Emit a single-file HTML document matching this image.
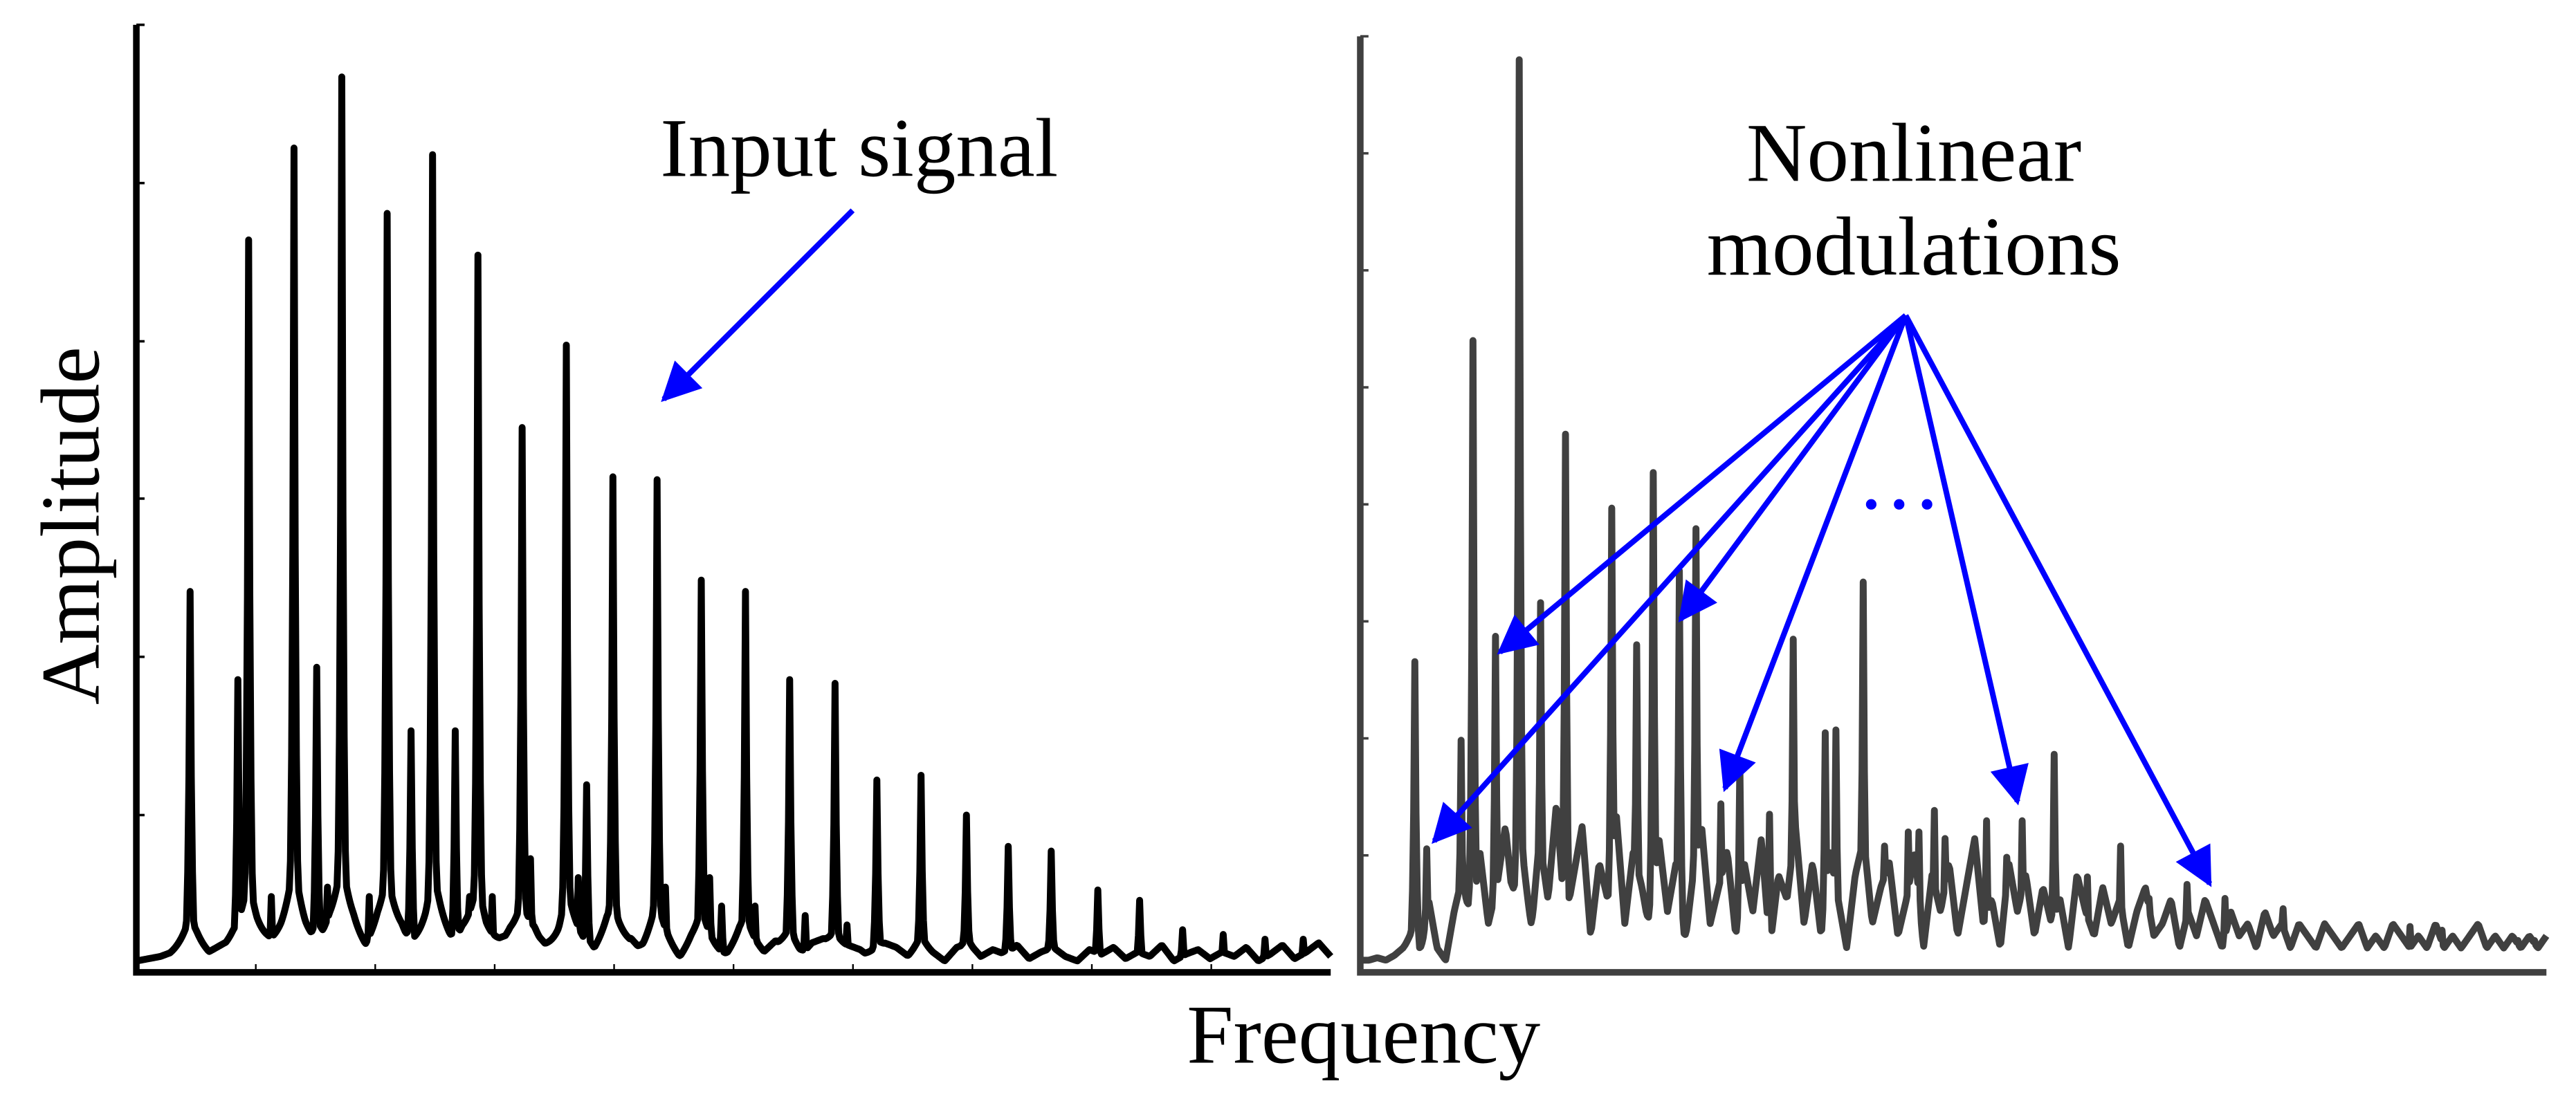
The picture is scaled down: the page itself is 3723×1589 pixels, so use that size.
<!DOCTYPE html>
<html><head><meta charset="utf-8"><style>
html,body{margin:0;padding:0;background:#fff;}
svg{display:block;}
text{font-family:"Liberation Serif",serif;fill:#000;}
</style></head><body>
<svg id="chart" width="3723" height="1589" viewBox="0 0 1568 669" xmlns="http://www.w3.org/2000/svg">
<defs>
<marker id="ah" viewBox="0 0 10 10" refX="9" refY="5" markerWidth="9" markerHeight="7" orient="auto" markerUnits="strokeWidth">
<path d="M0,0 L10,5 L0,10 z" fill="#0000ff"/>
</marker>
</defs>
<g id="left-panel"></g>
<g id="right-panel"></g>
<text transform="translate(60,320) rotate(-90)" text-anchor="middle" font-size="51">Amplitude</text>
<text x="830" y="647" text-anchor="middle" font-size="51">Frequency</text>
<text x="523" y="107" text-anchor="middle" font-size="51">Input signal</text>
<text x="1165" y="110" text-anchor="middle" font-size="51">Nonlinear</text>
<text x="1165" y="167" text-anchor="middle" font-size="51">modulations</text>
<g stroke="#0000ff" stroke-width="3.4" fill="none">
<line x1="519" y1="128" x2="404" y2="243" marker-end="url(#ah)"/>
<line x1="1160" y1="192" x2="913" y2="397" marker-end="url(#ah)"/>
<line x1="1160" y1="192" x2="873" y2="512" marker-end="url(#ah)"/>
<line x1="1160" y1="192" x2="1023" y2="377" marker-end="url(#ah)"/>
<line x1="1160" y1="192" x2="1050" y2="480" marker-end="url(#ah)"/>
<line x1="1160" y1="192" x2="1228" y2="488" marker-end="url(#ah)"/>
<line x1="1160" y1="192" x2="1345" y2="538" marker-end="url(#ah)"/>
</g>
<g fill="#0000ff">
<circle cx="1139" cy="307" r="3.2"/><circle cx="1156" cy="307" r="3.2"/><circle cx="1173" cy="307" r="3.2"/>
</g>
</svg>
<script>
// Left (input) spectrum: peak frequencies (0-100) and amplitudes (0-100)
const leftPeakFreq = [4.5,8.5,9.4,11.3,13.2,15.1,16,17.2,19.5,21.0,23.0,24.8,26.7,27.9,28.6,29.8,32.3,33,36.0,37,37.7,39.9,43.6,44.3,47.3,48,49,51.0,51.8,54.7,56,58.5,59.5,62.0,65.7,69.5,73.0,76.6,80.5,84.0,87.6,91,94.5,97.7];
const leftPeakAmp  = [40.2,30.9,77.3,8,87.0,32.2,9,94.5,8,80.1,25.5,86.3,25.5,8,75.7,8,57.5,12,66.2,10,19.8,52.3,52.0,9,41.4,10,7,40.2,7,30.9,6,30.5,5,20.3,20.8,16.6,13.3,12.8,8.7,7.6,4.5,4,3.5,3.5];
const leftNoise = [1,1.2,1.4,1.8,2.2,2.5,1.8,2.4,3,2.6,2.2,3.2,2.8,3.4,2.4,3,3.6,2.6,3.2,2.2,3.4,2.8,3.6,2.4,1.4,3.2,2.6,3.8,2.8,1.6,3,3.4,2.2,3.6,2.4,1.2,3.2,2.8,2,3.4,2.6,3,1.8,3.2,2.4,1.2,2.8,3.2,2.2,1.6,3,2.4,1.8,2.8,2.2,1.4,2.6,3,1.6,2.4,2,1.2,2.6,2.2,1.4,2.4,1.8,1,2.2,2.6,1.4,2,1.6,2.4,1.2,1.8,2.2,1.4,1,2,1.6,2.2,1.2,1.8,1.4,2.4,1,1.6,2,1.2,1.8,1.4,2.2,1,1.6,2.4,1.2,1.8,2.6,1.4];
// Right (output) spectrum
const rightPeakFreq = [4.6,5.6,8.5,9.5,11.4,13.4,15.2,17.3,21.2,23.3,24.7,26.9,28.3,30.4,32.0,34.5,36.5,39.2,40.1,42.4,44.2,46.2,47.1,48.4,49.3,52.8,54.5,55.8,58.5,60.4,61.3,64.1,66.5,69.7,72.9,77.8,88.5,91.2,97.6,99.0];
const rightPeakAmp  = [33.2,13.2,24.8,67.5,35.9,97.5,39.5,57.5,49.6,35.0,53.4,42.9,47.4,18.0,22.2,16.9,35.6,25.6,25.9,41.7,13.5,15.0,15.0,17.3,14.3,16.2,12.3,16.2,23.3,10.2,10.2,13.5,7.9,9.4,7.9,6.8,4.9,4.5,3.4,3.4];
const rightNoise = [1,1,1.2,1,1.4,2,3,1,6,2,1,5,8,3,10,4,7,12,5,9,3,11,6,14,4,8,12,3,9,6,13,4,10,7,3,11,5,9,2,8,12,4,7,10,3,9,5,11,2,8,6,12,4,9,3,10,6,2,8,11,4,7,9,3,6,10,2,8,5,9,3,7,11,4,6,2,9,5,8,3,7,4,6,2,8,5,3,7,4,6,2,5,7,3,4,6,2,5,3,6,4,2,5,3,4,2,5,3,4,2,4,3,2,4,3,2,3,4,2,3,2,4,3,2,3,2,4,2,3,2,3,4,2,3,2,3,2,3,2,3];

const NS='http://www.w3.org/2000/svg';
function makeScale(d0,d1,r0,r1){return v=>r0+(v-d0)/(d1-d0)*(r1-r0);}
function noiseAt(arr,f){const p=f/100*(arr.length-1);const i=Math.floor(p),t=p-i;const a=arr[Math.min(i,arr.length-1)],b=arr[Math.min(i+1,arr.length-1)];return a+(b-a)*t;}
function drawPanel(g,freqs,amps,noise,x0,x1,yTop,yBot,color,yTicks,xTicks,skirt,nScale){
  const sx=makeScale(0,100,x0,x1), sy=makeScale(0,100,yBot,yTop);
  const samples=[];
  const fs=[];
  for(let f=0;f<=100.0001;f+=0.1)fs.push(f);
  freqs.forEach(f=>fs.push(f));
  fs.sort((a,b)=>a-b);
  fs.forEach(f=>{
    const n=noiseAt(noise,f)*nScale;
    let v=n;
    freqs.forEach((pf,i)=>{const d=Math.abs(f-pf);v=Math.max(v,amps[i]*Math.exp(-d/0.15), amps[i]*skirt*Math.exp(-d/1.0)+n*0.6);});
    samples.push([sx(f),sy(Math.min(v,100))]);
  });
  const path=document.createElementNS(NS,'path');
  
  
  path.setAttribute('d','M'+samples.map(p=>p[0].toFixed(2)+','+p[1].toFixed(2)).join('L'));
  path.setAttribute('fill','none');path.setAttribute('stroke',color);
  path.setAttribute('stroke-width','4.2');path.setAttribute('stroke-linejoin','round');
  g.appendChild(path);
  const ax=document.createElementNS(NS,'path');
  
  
  ax.setAttribute('d',`M${x0},${yTop}L${x0},${yBot}L${x1},${yBot}`);
  ax.setAttribute('fill','none');ax.setAttribute('stroke',color);ax.setAttribute('stroke-width','4');
  g.appendChild(ax);
  yTicks.forEach(t=>{
    const l=document.createElementNS(NS,'line');
    
    
    l.setAttribute('x1',x0);l.setAttribute('x2',x0+5);l.setAttribute('y1',sy(t));l.setAttribute('y2',sy(t));
    l.setAttribute('stroke',color);l.setAttribute('stroke-width','1.5');g.appendChild(l);
  });
  xTicks.forEach(t=>{
    const l=document.createElementNS(NS,'line');
    
    
    l.setAttribute('x1',sx(t));l.setAttribute('x2',sx(t));l.setAttribute('y1',yBot);l.setAttribute('y2',yBot-5);
    l.setAttribute('stroke',color);l.setAttribute('stroke-width','1');g.appendChild(l);
  });
}
const leftYTicks=[16.6,33.3,50,66.6,83.3,100];
const leftXTicks=[10,20,30,40,50,60,70,80,90];
const rightYTicks=[12.5,25,37.5,50,62.5,75,87.5,100];
const rightXTicks=[];
drawPanel(document.getElementById('left-panel'),leftPeakFreq,leftPeakAmp,leftNoise,83,810,15,592,'#000',leftYTicks,leftXTicks,0.11,1.2);
drawPanel(document.getElementById('right-panel'),rightPeakFreq,rightPeakAmp,rightNoise,828,1550,22,592,'#404040',rightYTicks,rightXTicks,0.08,1.3);
</script>
</body></html>
